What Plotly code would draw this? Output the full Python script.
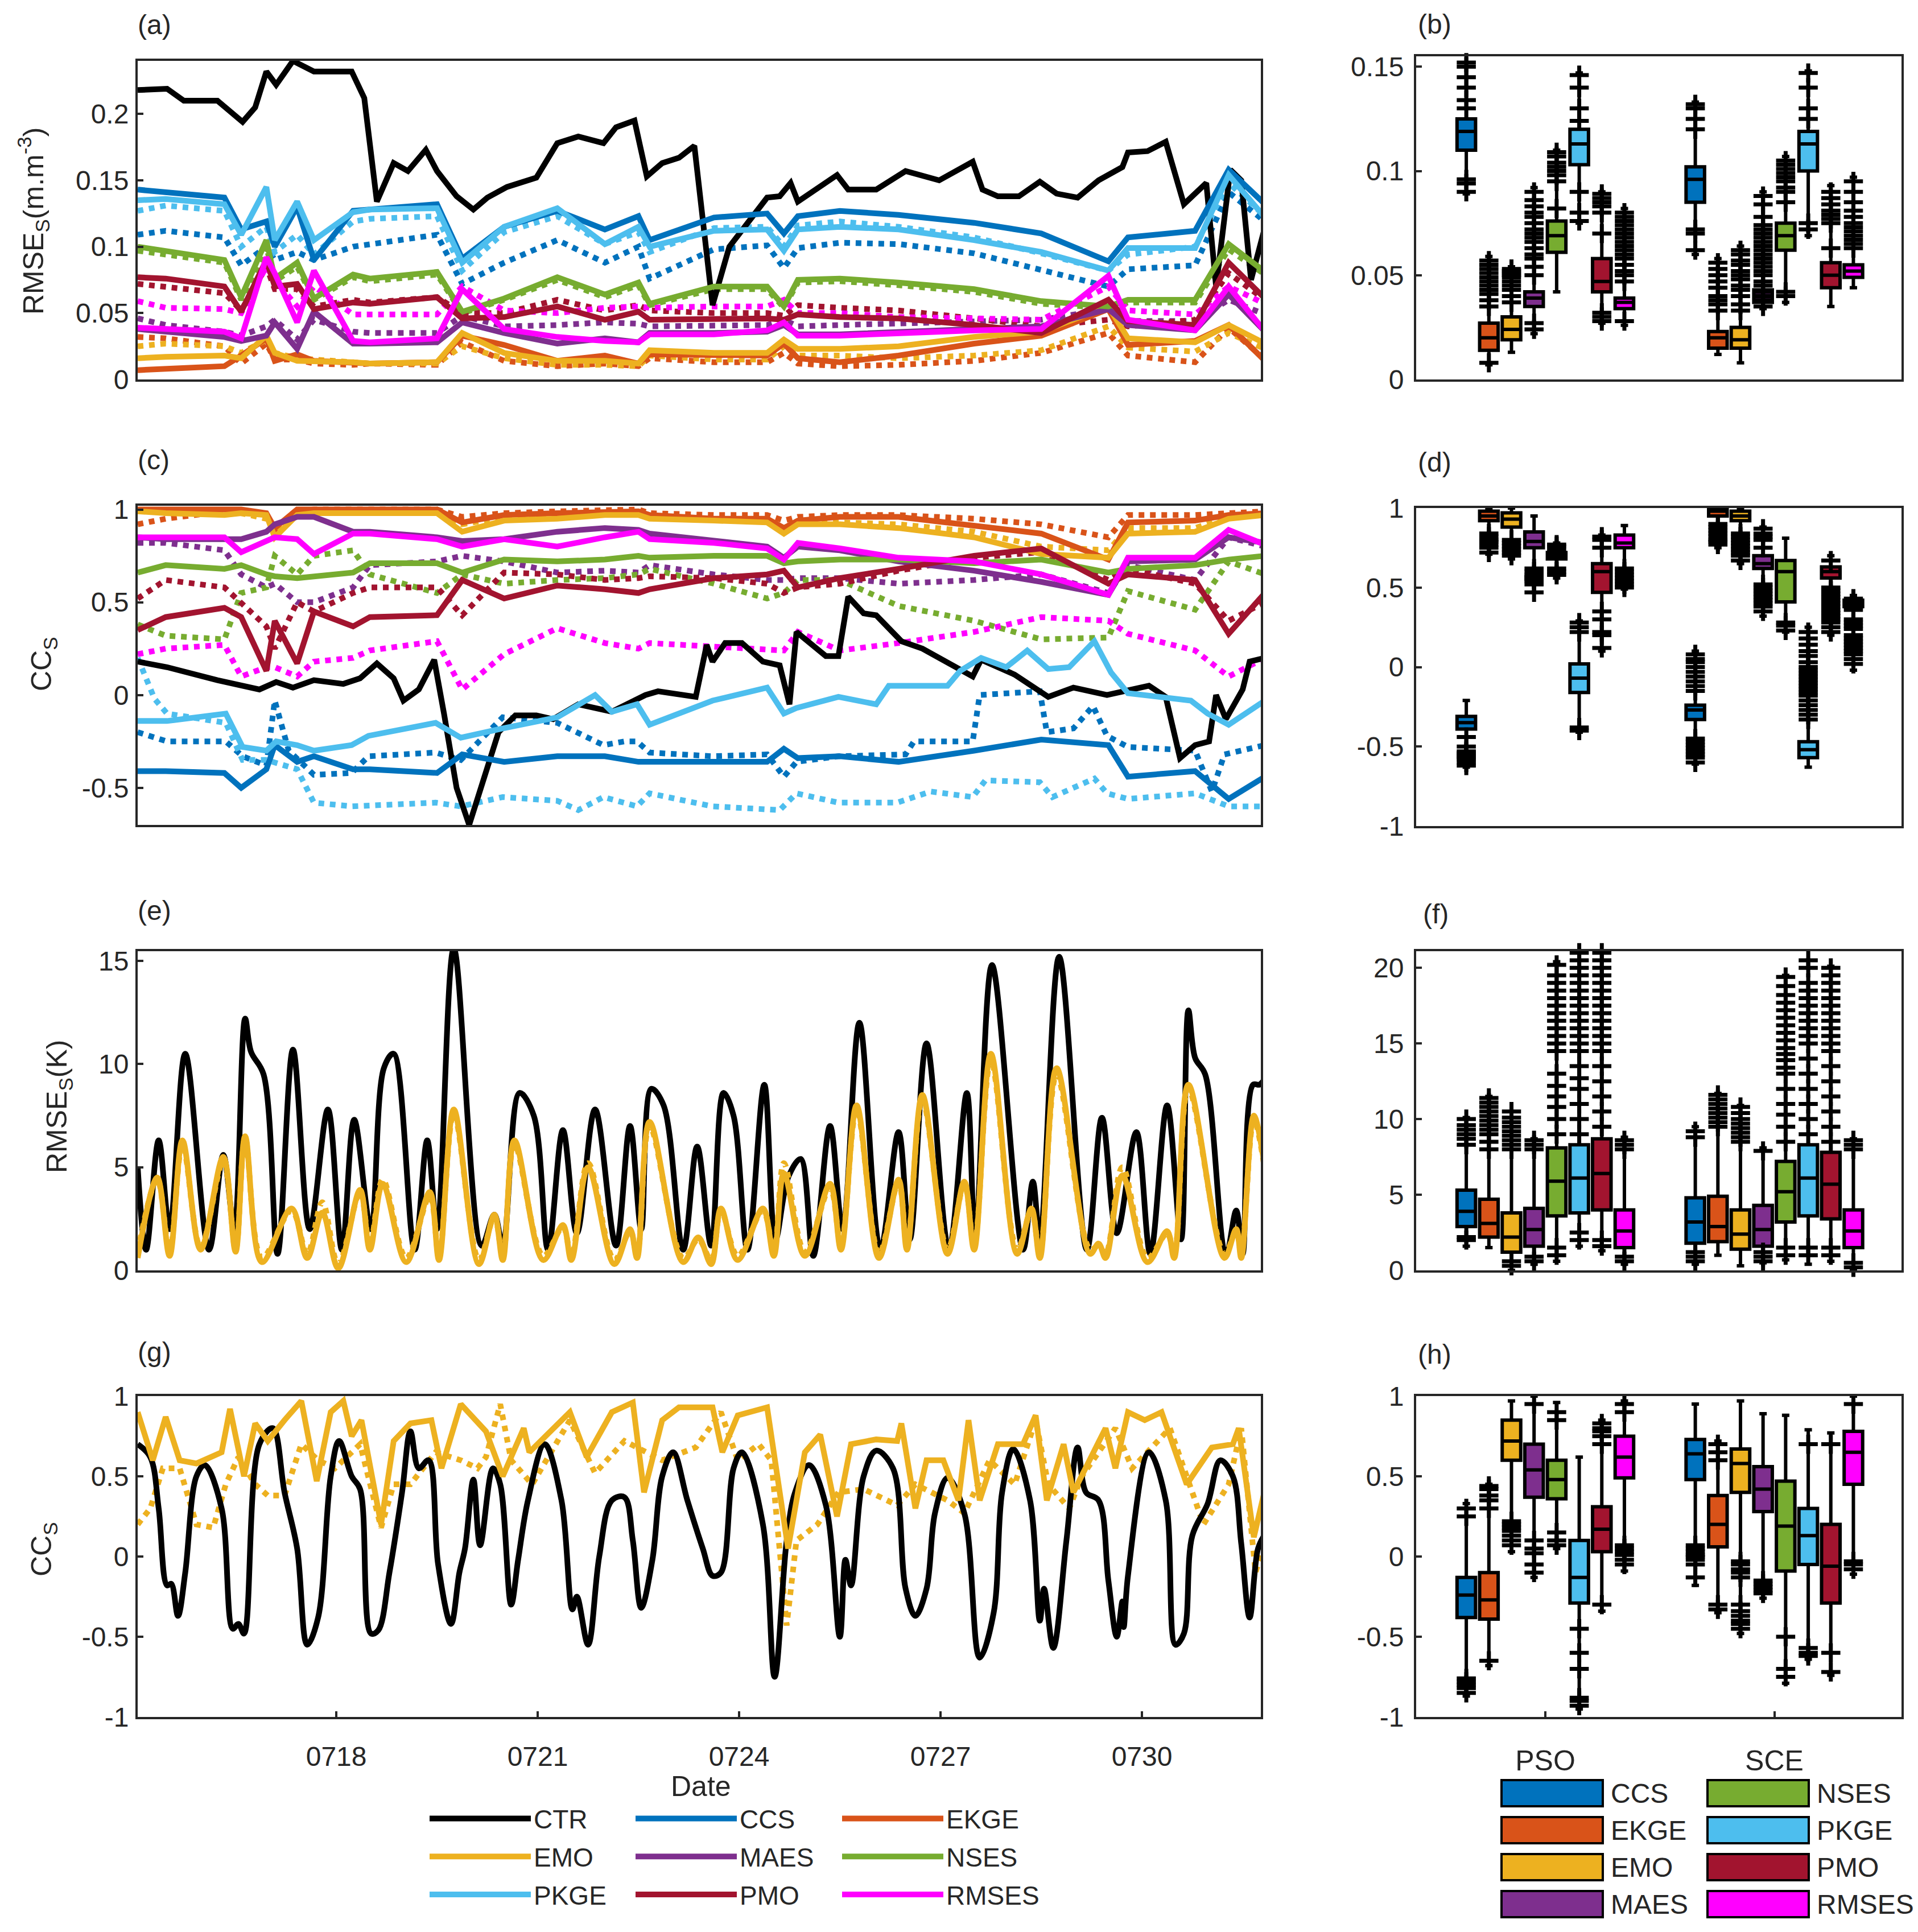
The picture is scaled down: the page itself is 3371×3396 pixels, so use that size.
import plotly.graph_objects as go

# x is hours since 0715 00:00
DATE_TICKS = [72, 144, 216, 288, 360]
DATE_LABELS = ["0718", "0721", "0724", "0727", "0730"]

COLORS = {"CTR": "#000000", "CCS": "#0072BD", "EKGE": "#D95319", "EMO": "#EDB120", "MAES": "#7E2F8E",
          "NSES": "#77AC30", "PKGE": "#4DBEEE", "PMO": "#A2142F", "RMSES": "#FF00FF"}
BOX_ORDER = ["CCS", "EKGE", "EMO", "MAES", "NSES", "PKGE", "PMO", "RMSES"]
BOX_POS = [1, 2, 3, 4, 5, 6, 7, 8, 11.14, 12.14, 13.14, 14.14, 15.14, 16.14, 17.14, 18.14]

# shared sampling hours for the soil moisture series
SM_H = [1, 11, 32, 38, 47, 50, 58, 64, 78, 84, 108, 117, 132, 151, 168, 180, 184, 207, 226, 232, 237, 252, 273, 300,
        324, 348, 355, 379, 391, 404]

# panel (a) RMSE soil moisture
A_CTR_H = [1, 11.5, 17.5, 29.5, 38.5, 43, 47, 50.5, 56.5, 64, 77.5, 82, 86.5, 92.5, 97.6, 104, 108, 115, 121, 126, 133,
           143.5, 151, 158.5, 167.5, 172, 178.6, 183, 188.5, 194.5, 200, 206.5, 212.5, 221.5, 226, 230.5, 234.4, 237,
           251, 255, 265, 275.5, 287.5, 299.5, 303, 308.5, 316, 323.5, 329.5, 337, 344.5, 353, 355, 362, 368.5, 375,
           383, 386.5, 391.6, 395.5, 399, 404]
A_CTR = [.218, .219, .21, .21, .194, .205, .232, .222, .24, .232, .232, .212, .134, .163, .157, .173, .157, .138, .128,
         .137, .145, .152, .178, .183, .178, .19, .195, .153, .163, .167, .176, .056, .1, .125, .137, .138, .148, .134,
         .154, .143, .143, .157, .15, .164, .143, .138, .138, .149, .14, .137, .15, .16, .171, .172, .179, .132, .148,
         .07, .158, .15, .075, .115]
A_CCS = [.143, .141, .137, .113, .119, .1, .13, .09, .127, .128, .132, .091, .115, .127, .113, .123, .105, .122, .125,
         .11, .123, .127, .124, .118, .11, .089, .107, .112, .158, .132]
A_EKGE = [.007, .008, .01, .018, .031, .014, .019, .014, .013, .012, .013, .033, .026, .014, .018, .012, .019, .018,
          .018, .027, .016, .013, .018, .027, .033, .053, .026, .029, .041, .014]
A_EMO = [.016, .017, .018, .016, .033, .02, .014, .014, .013, .012, .013, .035, .02, .014, .014, .012, .022, .02, .02,
         .03, .023, .023, .025, .032, .036, .055, .031, .028, .041, .027]
A_MAES = [.038, .036, .032, .029, .033, .043, .023, .051, .027, .027, .028, .043, .035, .027, .031, .028, .035, .035,
          .036, .041, .034, .034, .036, .038, .04, .053, .041, .037, .064, .036]
A_NSES = [.1, .097, .09, .062, .105, .076, .088, .061, .079, .076, .081, .051, .061, .077, .064, .073, .057, .07, .07,
          .055, .075, .076, .073, .068, .059, .055, .06, .06, .102, .081]
A_PKGE = [.135, .136, .132, .109, .145, .105, .134, .105, .126, .128, .129, .088, .115, .129, .102, .115, .1, .112,
          .113, .097, .113, .115, .113, .105, .096, .082, .099, .099, .154, .122]
A_PMO = [.077, .076, .07, .051, .09, .07, .072, .053, .058, .057, .062, .046, .047, .055, .045, .051, .045, .046, .046,
         .045, .049, .047, .046, .041, .035, .06, .044, .041, .088, .061]
A_RMSES = [.039, .038, .036, .031, .092, .08, .043, .082, .029, .028, .031, .068, .038, .032, .029, .028, .034, .034,
           .037, .043, .033, .033, .035, .037, .038, .078, .045, .037, .07, .036]
A_CCS_DOT = [.109, .112, .107, .086, .1, .09, .096, .09, .1, .102, .109, .072, .088, .105, .088, .1, .076, .098, .101,
             .084, .099, .103, .102, .095, .083, .07, .083, .086, .141, .119]
A_EKGE_DOT = [.032, .031, .025, .012, .027, .015, .015, .012, .011, .012, .011, .028, .014, .01, .012, .01, .016, .013,
              .013, .02, .012, .01, .011, .014, .02, .035, .018, .013, .039, .015]
A_EMO_DOT = [.025, .027, .025, .02, .03, .02, .016, .015, .012, .012, .012, .025, .016, .011, .011, .01, .018, .015,
             .015, .025, .018, .018, .016, .018, .022, .04, .024, .021, .035, .023]
A_MAES_DOT = [.046, .041, .036, .033, .04, .045, .03, .045, .036, .035, .035, .048, .04, .041, .043, .042, .04, .04,
              .041, .045, .04, .041, .042, .043, .045, .053, .044, .044, .06, .049]
A_NSES_DOT = [.097, .094, .088, .06, .1, .074, .085, .06, .077, .074, .079, .05, .06, .075, .062, .071, .056, .068,
              .068, .054, .073, .074, .071, .066, .057, .054, .058, .058, .098, .079]
A_PKGE_DOT = [.127, .131, .127, .1, .115, .096, .109, .094, .119, .121, .123, .082, .111, .123, .102, .111, .096, .114,
              .115, .1, .116, .119, .115, .107, .095, .082, .094, .1, .148, .123]
A_PMO_DOT = [.072, .07, .065, .052, .085, .068, .068, .055, .06, .058, .062, .05, .05, .06, .052, .056, .052, .05, .05,
             .048, .056, .054, .052, .046, .04, .045, .04, .045, .08, .06]
A_RMSES_DOT = [.059, .054, .053, .05, .085, .075, .055, .07, .049, .049, .049, .07, .052, .05, .054, .055, .054, .055,
               .055, .06, .05, .05, .047, .046, .045, .07, .052, .049, .07, .057]

# panel (c) CC soil moisture
C_CTR_H = [1, 11.5, 29.5, 44.5, 50.5, 56.5, 64, 74.5, 80.5, 86.5, 92.5, 96, 101.5, 107, 110.5, 115, 119.5, 125, 130, 136,
           143.5, 149.5, 158.5, 170.5, 182.5, 187, 200.5, 204.4, 206.5, 211, 217, 224.5, 230.5, 234, 236.5, 247, 251.5,
           255, 260.5, 265, 274, 281.5, 299.5, 302.5, 314.5, 326.5, 335.5, 347.5, 362.5, 368.5, 373.6, 379, 384, 386.5,
           390, 396, 398.5, 404]
C_CTR = [.18, .15, .08, .03, .07, .04, .08, .06, .09, .17, .09, -.03, .03, .19, -.1, -.5, -.7, -.45, -.2, -.11, -.11,
         -.13, -.05, -.09, 0, .02, -.01, .27, .18, .28, .28, .18, .16, -.05, .34, .21, .21, .53, .44, .43, .29, .25, .1,
         .19, .11, -.01, .04, 0, .05, -.01, -.34, -.27, -.25, 0, -.13, .03, .18, .2]
C_CCS = [-.41, -.41, -.42, -.5, -.4, -.27, -.36, -.33, -.4, -.4, -.42, -.32, -.36, -.33, -.33, -.36, -.36, -.36, -.36,
         -.29, -.34, -.33, -.36, -.3, -.24, -.27, -.44, -.41, -.56, -.44]
C_EKGE = [1, 1, 1, 1, .98, .9, 1, 1, 1, 1, 1, .93, .97, .98, .99, .99, .97, .95, .95, .9, .94, .96, .96, .91, .87, .73,
          .93, .94, .97, .98]
C_EMO = [.99, .98, .97, .98, .97, .85, .97, .98, .98, .98, .98, .88, .94, .95, .97, .97, .95, .94, .93, .87, .92, .92,
         .9, .85, .76, .74, .87, .88, .95, .97]
C_MAES = [.85, .84, .84, .84, .88, .92, .96, .96, .88, .88, .85, .83, .84, .88, .9, .89, .87, .83, .8, .74, .8, .78,
          .72, .67, .61, .54, .72, .73, .85, .82]
C_NSES = [.66, .7, .68, .7, .65, .64, .63, .64, .66, .71, .71, .66, .73, .72, .73, .75, .74, .75, .75, .71, .72, .73,
          .73, .71, .73, .66, .68, .7, .73, .75]
C_PKGE_H = [1, 11.5, 32.5, 38.5, 47, 50.5, 58, 64, 77.5, 83.5, 107.5, 116.5, 131.5, 151, 164.5, 170.5, 179.5, 184, 206.5,
            226, 232, 236.5, 251.5, 265, 269.5, 290.5, 295, 302.5, 311.5, 319, 326.5, 334, 343, 349, 355, 377.5, 383.5,
            391, 404]
C_PKGE = [-.14, -.14, -.1, -.28, -.3, -.25, -.27, -.3, -.27, -.22, -.15, -.23, -.18, -.12, 0, -.09, -.05, -.16, -.03,
          .04, -.1, -.07, -.01, -.05, .05, .05, .13, .2, .15, .24, .14, .15, .29, .12, .01, -.03, -.1, -.16, -.03]
C_PMO = [.35, .42, .47, .42, .13, .4, .17, .45, .37, .42, .43, .62, .52, .59, .57, .55, .57, .63, .65, .67, .58, .63,
         .68, .75, .79, .6, .65, .62, .33, .55]
C_RMSES = [.85, .85, .85, .77, .83, .85, .84, .76, .87, .87, .84, .8, .84, .8, .85, .88, .84, .82, .79, .73, .82, .79,
           .74, .72, .65, .54, .74, .74, .89, .81]
C_CCS_DOT_H = [1, 11.5, 32.5, 38.5, 47, 50, 55, 64, 77.5, 83.5, 107.5, 116.5, 131.5, 151, 167.5, 175, 179.5, 184, 206.5,
               226, 232, 236.5, 251.5, 275.5, 278.5, 299.5, 302, 323.5, 326, 335.5, 342.5, 347.5, 355, 379, 385, 389.5,
               404]
C_CCS_DOT = [-.2, -.25, -.25, -.33, -.38, -.03, -.3, -.43, -.42, -.33, -.31, -.35, -.12, -.15, -.27, -.25, -.25, -.31,
             -.33, -.32, -.44, -.36, -.33, -.32, -.25, -.25, 0, .02, -.2, -.18, -.06, -.22, -.28, -.3, -.52, -.32, -.27]
C_EKGE_DOT = [.92, .95, .99, .99, .97, .88, .99, 1, 1, 1, 1, .96, .98, .99, 1, 1, .98, .97, .97, .94, .96, .97, .97, .95,
              .92, .85, .97, .97, .98, .99]
C_EMO_DOT = [.99, .99, .98, .98, .95, .88, .98, .98, .98, .98, .99, .92, .96, .97, .98, .98, .96, .95, .94, .9, .93, .93,
             .92, .88, .8, .78, .9, .9, .96, .98]
C_MAES_DOT = [.82, .82, .78, .65, .58, .6, .5, .5, .58, .7, .72, .75, .72, .66, .67, .66, .7, .65, .62, .62, .63, .63,
              .6, .62, .65, .55, .7, .62, .85, .8]
C_NSES_DOT = [.38, .32, .3, .55, .58, .75, .65, .75, .78, .65, .55, .65, .6, .62, .63, .65, .68, .6, .52, .55, .62, .62,
              .48, .4, .3, .31, .56, .46, .72, .65]
C_PKGE_DOT_H = [1, 7, 11.5, 32.5, 38.5, 47, 58, 64, 77.5, 107.5, 116.5, 131.5, 151, 158.5, 167.5, 179.5, 184, 206.5,
                230.5, 236.5, 251.5, 272.5, 284.5, 299.5, 304, 323.5, 328, 343, 347.5, 355, 379, 391, 404]
C_PKGE_DOT = [.2, -.02, -.1, -.15, -.35, -.35, -.4, -.58, -.6, -.58, -.6, -.55, -.57, -.62, -.55, -.6, -.53, -.6, -.62,
              -.53, -.58, -.58, -.52, -.55, -.46, -.47, -.55, -.45, -.53, -.56, -.53, -.6, -.6]
C_PMO_DOT = [.52, .62, .58, .5, .37, .25, .5, .45, .55, .58, .58, .43, .66, .65, .62, .63, .64, .63, .6, .55, .58, .6,
             .67, .74, .77, .62, .68, .6, .4, .5]
C_RMSES_DOT = [.22, .25, .27, .1, .15, .15, .1, .18, .2, .24, .29, .03, .22, .36, .28, .25, .28, .26, .25, .24, .34, .24,
               .28, .34, .42, .4, .33, .24, .1, .2]

# panel (e) RMSE skin temperature
E_CTR_H = [1, 4, 8.5, 12.4, 18, 26.5, 31.6, 35.5, 39.4, 41.5, 46, 51, 56.5, 62.5, 69, 74, 78.4, 84.4, 89, 92.5, 100,
           104.5, 108, 114, 124, 128.5, 131.5, 137.5, 142.6, 147.7, 153, 158, 164.5, 172, 177, 181, 184.6, 189, 196, 201,
           206, 210.4, 214, 219, 225, 229, 233.5, 238, 242.5, 248.5, 253, 259, 266.5, 273, 277, 283, 291, 297.4, 300.4,
           306.4, 317.5, 321, 323.5, 330.4, 340.3, 345.7, 351, 358, 363, 369, 374, 376.6, 379, 382.6, 390, 393.7, 396,
           399.7, 402, 404]
E_CTR = [5, 1, 6.3, 2, 10.5, 1, 5.6, 2, 12.2, 10.6, 9.5, .8, 10.7, 2, 7.8, 1, 7.3, 2, 9.8, 10.5, 1, 6.3, 2, 15.6, 1.2,
         2.7, 1.2, 8.6, 7.5, 1, 6.8, 1.8, 7.8, 1.2, 7, 2, 8.8, 8, 1, 6, 1.2, 8.6, 7.5, 1, 9, 1.5, 4.5, 5.4, .7, 7, 2, 12,
         1, 6.7, 1.5, 11, 1, 8.6, 1.5, 14.8, 1, 4.3, 1.5, 15.2, 1, 7.4, 1.8, 6.7, .8, 8, 1.5, 12.6, 10.3, 9.5, .7, 2.9,
         .8, 9, 9, 9.3]
E_EMO_H = [1, 8, 12.4, 17, 23.5, 31.6, 36, 39.4, 45.4, 56, 61.6, 67, 72.7, 80.5, 84, 88.6, 97, 105.4, 108.7, 114, 123,
           128.5, 131.5, 135.7, 146, 153, 156, 162, 171.4, 177, 179.5, 184, 196, 201.4, 206, 209.5, 215.5, 224.5, 228.4,
           232, 239.5, 248.5, 252.4, 258, 266, 273, 276, 281.5, 290.5, 296.5, 300, 306, 315.4, 320.5, 323.5, 329.5, 341.5,
           344.5, 347, 353, 362, 369, 371.5, 376.6, 389.5, 393.7, 395.5, 400, 404]
E_EMO = [.6, 4.5, .7, 6.3, 1, 5.5, .9, 6.5, .4, 3, .6, 2.8, .1, 3.9, 1, 4.2, .4, 3.8, .5, 7.8, .3, 2.7, .5, 6.3, .5, 2.2,
         .5, 5, .3, 2, .6, 7.2, .4, 1.6, .3, 3, .5, 3, .7, 4.7, .7, 4.2, 1, 8, .6, 4.4, 1, 8.5, .8, 4.3, 1, 10.5, .8, 3,
         .6, 9.8, .8, 1.3, .6, 4.6, .4, 1.9, .6, 9, .6, 2, .6, 7.5, 4.9]
E_EMO_DOT = [.9, 4.4, .9, 6.1, 1.1, 5.3, 1, 6.4, .6, 2.9, .8, 3.3, .3, 3.8, 1.2, 4.4, .6, 3.6, .7, 7.6, .5, 2.6, .7, 6.1,
             .7, 2.1, .7, 5.2, .5, 1.9, .8, 7, .6, 1.5, .5, 2.9, .7, 2.9, .9, 5.2, .9, 4, 1.2, 7.8, .8, 4.3, 1.2, 8.3, 1,
             4.2, 1.2, 10.2, 1, 2.9, .8, 9.5, 1, 1.2, .8, 5, .6, 1.8, .8, 8.8, .8, 1.9, .8, 7.3, 4.8]

# panel (g) CC skin temperature
G_CTR_H = [1, 5.5, 8.5, 11.5, 13, 15.4, 18, 22, 25, 31, 35, 37, 39, 44.5, 49.3, 53.5, 58, 61.6, 65.5, 70, 73, 77.5, 80.5,
           84.4, 87, 91, 95.5, 98.5, 101.5, 105, 108.4, 113, 116, 118, 121, 123.4, 128, 130.6, 134.5, 137, 140.5, 146.5,
           152.5, 156.4, 158, 162, 166, 170.5, 175, 178, 181, 185, 188.5, 192.4, 197.5, 203, 206.5, 209.5, 214, 217,
           224.5, 228.7, 233, 236, 241, 247, 252, 254, 256, 260.5, 265, 271, 275.5, 279, 283, 286, 290.5, 296.5, 302,
           307, 310, 314, 320, 323.5, 325, 328.3, 333, 337, 340, 344.5, 348, 351, 353, 353.5, 355, 362.5, 368.5, 372, 375,
           378, 383.5, 388, 392.5, 395.5, 398.5, 401.5, 404]
G_CTR = [.7, .62, .3, -.18, -.17, -.37, -.1, .5, .57, .3, -.45, -.42, -.48, .7, .8, .4, .05, -.55, -.38, .5, .72, .5,
         .42, -.48, -.46, -.1, .4, .78, .55, .6, -.05, -.42, -.1, .05, .48, .07, .55, .45, -.3, -.02, .35, .7, .35, -.33,
         -.25, -.55, 0, .35, .37, .1, -.32, -.02, .5, .65, .35, .05, -.12, -.1, .55, .65, .2, -.75, .1, .4, .57, .32, -.5,
         -.02, -.18, .5, .66, .55, -.2, -.37, -.2, .27, .49, .27, -.63, -.35, .4, .67, .35, -.4, -.2, -.57, .1, .68, .4,
         .35, -.15, -.5, -.28, -.44, -.12, .65, .35, -.55, -.48, .13, .33, .6, .5, .08, -.38, .05, .14]
G_EMO_H = [1, 6.4, 11, 16, 22, 31, 34, 39, 43, 47.5, 53.5, 59.5, 65, 70, 74.5, 77.5, 81, 88, 92.5, 98.5, 106, 109.6, 116.5,
           125.5, 131.5, 139, 141, 155.5, 161.5, 170.5, 178, 182, 188.5, 194.5, 206.5, 210, 215.5, 226, 233.5, 239.5, 245,
           251, 256, 265, 272.5, 274, 279, 283, 289, 294.4, 298, 302, 308.5, 317.5, 322, 326, 332, 335.5, 347, 350.5, 355,
           361, 367, 376, 385, 392.5, 394.6, 400, 404]
G_EMO = [.9, .6, .87, .6, .58, .65, .92, .5, .83, .72, .85, .97, .47, .9, .97, .75, .85, .2, .72, .83, .85, .55, .95, .78,
         .5, .8, .65, .9, .62, .9, .96, .4, .85, .93, .93, .65, .88, .93, .05, .65, .76, .25, .7, .73, .72, .83, .3, .6,
         .6, .35, .85, .35, .7, .7, .88, .35, .7, .4, .8, .55, .9, .85, .9, .45, .68, .7, .8, .12, .42]
G_EMO_DOT_H = [1, 5.5, 10, 16, 22, 28, 32.5, 37, 43, 47.5, 53.5, 59.5, 65.5, 71.5, 80.5, 88, 92.5, 98.5, 107.5, 116.5,
               122.5, 125.5, 130.6, 134.5, 142, 155.5, 164.5, 175, 188.5, 200.5, 209.5, 215.5, 223, 227.5, 233, 236.5, 244,
               251.5, 260.5, 272.5, 279, 290.5, 296.5, 305.5, 314.5, 322, 326.5, 334, 338.5, 350.5, 356.5, 370, 376, 382,
               391, 395.5, 400.6, 404]
G_EMO_DOT = [.2, .3, .55, .55, .2, .18, .45, .62, .45, .38, .38, .7, .6, .55, .7, .18, .45, .45, .65, .6, .55, .62, .95,
             .6, .45, .85, .52, .72, .6, .68, .9, .6, .7, .6, -.43, .1, .2, .4, .42, .32, .45, .35, .27, .6, .45, .85, .45,
             .3, .5, .8, .55, .8, .5, .2, .45, .8, -.1, .1]

# box statistics, one list per statistic, same order as BOX_POS
B_Q1 = [.11, .014, .019, .035, .061, .103, .042, .034, .085, .015, .015, .037, .062, .1, .044, .049]
B_MED = [.119, .02, .024, .039, .069, .113, .047, .037, .096, .02, .019, .04, .069, .113, .05, .052]
B_Q3 = [.125, .027, .03, .042, .076, .12, .058, .039, .102, .023, .025, .043, .075, .119, .056, .055]
B_LOW = [.089, .007, .013, .022, .042, .075, .027, .026, .06, .012, .008, .034, .037, .069, .035, .044]
B_HIGH = [.158, .059, .054, .092, .11, .147, .09, .082, .133, .058, .064, .09, .107, .148, .093, .097]
B_OUT = [
    [.09, .094, .096, .13, .134, .14, .145, .15, .152, .156],
    [.008, .035, .038, .041, .043, .045, .047, .049, .051, .053, .055, .057],
    [.037, .04, .043, .045, .047, .049, .05, .051, .052, .053],
    [.024, .027, .05, .054, .058, .06, .063, .066, .068, .07, .072, .075, .078, .08, .083, .086, .09],
    [.082, .095, .098, .1, .102, .104, .107, .109],
    [.076, .08, .09, .124, .13, .14, .146],
    [.028, .03, .032, .07, .08, .083, .085, .087, .089],
    [.028, .047, .05, .052, .055, .058, .06, .062, .064, .066, .068, .07, .072, .074, .076, .078, .08],
    [.062, .07, .072, .12, .125, .13, .132],
    [.033, .036, .038, .04, .044, .047, .05, .053, .056],
    [.033, .036, .04, .043, .045, .048, .05, .052, .055, .057, .06, .062],
    [.035, .038, .04, .042, .045, .047, .05, .052, .054, .056, .058, .06, .062, .064, .066, .068, .07, .072, .074, .078,
     .084, .088],
    [.04, .042, .085, .09, .092, .095, .097, .099, .101, .103, .105],
    [.072, .075, .125, .13, .14, .147],
    [.063, .075, .077, .079, .081, .084, .087, .09],
    [.063, .065, .067, .069, .071, .073, .075, .078, .081, .085, .09, .095],
]

D_Q1 = [-.39, .92, .88, .75, .68, -.16, .47, .75, -.33, .95, .92, .62, .41, -.57, .56, .38]
D_MED = [-.35, .95, .93, .79, .7, -.07, .6, .78, -.27, .98, .95, .65, .6, -.52, .6, .4]
D_Q3 = [-.31, .98, .97, .85, .72, .02, .65, .83, -.24, 1, .98, .7, .67, -.47, .63, .42]
D_LOW = [-.63, .71, .68, .47, .56, -.41, .1, .49, -.61, .75, .65, .32, .22, -.63, .2, -.02]
D_HIGH = [-.21, 1, 1, .95, .78, .29, .83, .89, .1, 1, 1, .88, .81, .25, .7, .45]
D_OUT = [
    [-.44, -.5, -.53, -.54, -.55, -.56, -.57, -.58, -.6, -.62],
    [.72, .75, .77, .79, .8, .82, .84],
    [.7, .72, .74, .76, .78, .8],
    [.47, .52, .54, .55, .56, .57, .58, .6, .62],
    [.58, .6, .62, .74, .76, .77],
    [-.4, -.38, .22, .25, .28],
    [.12, .2, .22, .3, .35, .75, .8, .82],
    [.5, .52, .54, .56, .58, .6, .62],
    [-.6, -.57, -.55, -.53, -.51, -.49, -.47, -.45, -.15, -.12, -.09, -.06, -.03, 0, .03, .05, .08],
    [.77, .79, .8, .82, .84, .86, .88, .9],
    [.67, .7, .72, .74, .76, .78, .8, .82, .84],
    [.35, .38, .4, .42, .44, .46, .48, .5, .52, .75, .8, .82, .84, .87],
    [.23, .26, .28],
    [-.33, -.3, -.27, -.24, -.21, -.18, -.16, -.14, -.12, -.1, -.08, -.06, -.04, -.02, 0, .03, .07, .1, .14, .18, .22],
    [.22, .25, .28, .3, .32, .34, .36, .38, .4, .42, .44, .46, .48, .5, .67],
    [.02, .05, .08, .1, .12, .14, .16, .18, .2, .24, .26, .28, .3, .36, .38, .41, .43],
]

F_Q1 = [2.9, 2.2, 1.2, 1.6, 3.6, 3.8, 4, 1.5, 1.8, 1.9, 1.4, 1.6, 3.2, 3.6, 3.4, 1.5]
F_MED = [3.9, 3.1, 2.2, 2.7, 5.9, 6.1, 6.4, 2.6, 3.2, 2.9, 2.4, 2.7, 5.2, 6.1, 5.7, 2.6]
F_Q3 = [5.3, 4.7, 3.8, 4.1, 8.1, 8.3, 8.7, 4, 4.8, 4.9, 4, 4.3, 7.2, 8.3, 7.8, 4]
F_LOW = [1.6, 1.5, 0, .4, .6, 1.6, 1.3, .4, .4, 1, .3, .5, .7, .4, .6, 0]
F_HIGH = [10.1, 11.5, 10.5, 8.7, 20.4, 21.3, 21.1, 8.8, 9.5, 11.7, 10.9, 8.1, 19.5, 21.4, 20.1, 8.7]
F_OUT = [
    [2, 2.2, 8.3, 8.7, 9, 9.3, 9.6, 10],
    [8, 8.5, 9, 9.3, 9.6, 9.9, 10.2, 10.5, 10.8, 11.1, 11.4],
    [.3, .6, 8, 8.3, 8.6, 8.9, 9.2, 9.5, 9.8, 10.1, 10.5],
    [.6, .9, 8, 8.3, 8.6],
    [1, 1.5, 9, 10, 10.8, 11.5, 12.2, 13, 14.5, 15, 15.5, 16, 16.5, 17, 17.5, 18, 18.5, 19, 19.5, 20.2],
    [2, 2.5, 9, 10, 11, 12, 12.7, 13.5, 14.5, 15, 15.5, 16, 16.5, 17, 17.5, 18, 18.5, 19, 19.5, 20, 20.5, 21],
    [1.6, 2, 9.5, 10.5, 11.5, 12.5, 13.5, 14.5, 15, 15.5, 16, 16.5, 17, 17.5, 18, 18.5, 19, 19.5, 20, 20.5, 21],
    [.6, .9, 8, 8.3, 8.6],
    [.6, .9, 1.2, 8.8, 9.2],
    [9.5, 9.8, 10.1, 10.4, 10.7, 11, 11.3, 11.6],
    [8.5, 8.8, 9.1, 9.4, 9.7, 10, 10.4, 10.8],
    [.6, .9, 1.2, 7.9],
    [1, 1.5, 8.5, 9.5, 10.3, 11, 12, 13, 13.4, 13.9, 14.3, 14.7, 15.2, 15.7, 16.2, 16.7, 17.2, 17.7, 18.2, 18.8, 19.4],
    [1, 1.5, 9, 10, 11, 12, 13, 14, 15, 15.5, 16, 16.5, 17, 17.5, 18, 18.5, 19, 20, 20.5, 21.2],
    [1, 1.5, 8.5, 9.5, 10.5, 11.5, 12.5, 13.5, 14.5, 15, 15.5, 16, 16.5, 17, 17.5, 18, 18.5, 19, 19.5, 20],
    [.2, .5, 8, 8.3, 8.6],
]

H_Q1 = [-.38, -.39, .6, .37, .36, -.29, .03, .49, .48, .06, .4, .28, -.09, -.05, -.29, .45]
H_MED = [-.24, -.27, .72, .54, .48, -.13, .17, .62, .64, .2, .58, .42, .19, .13, -.06, .65]
H_Q3 = [-.13, -.1, .85, .7, .6, .1, .31, .75, .73, .38, .67, .56, .47, .3, .2, .78]
H_LOW = [-.87, -.68, .03, -.13, .05, -.95, -.34, -.09, -.18, -.35, -.48, -.26, -.79, -.64, -.74, -.11]
H_HIGH = [.33, .45, .97, 1, .96, .62, .85, .97, .95, .72, .97, .89, .88, .79, .77, 1]
H_OUT = [
    [-.85, -.82, -.8, -.78, -.76, .25, .3],
    [-.65, .3, .35, .38, .42, .44],
    [.07, .1, .13, .16, .18, .2, .22],
    [-.1, -.05, .02, .05, .1, .95],
    [.07, .1, .15, .85, .9],
    [-.93, -.9, -.88, -.7, -.6, -.45],
    [-.3, .7, .75, .78, .8, .83],
    [-.05, -.02, .01, .03, .05, .07, .9, .95],
    [-.13, -.05, -.02, 0, .01, .03, .05, .07],
    [-.33, -.3, .6, .65, .7],
    [-.45, -.42, -.4, -.37, -.34, -.3, -.13, -.1, -.08, -.05, -.03],
    [-.23, -.21, -.19, -.17, -.15],
    [-.75, -.7, -.5],
    [-.62, -.6, -.57, .7],
    [-.72, -.6, .7],
    [-.08, -.05, -.03, .95],
]

W, H = 3371, 3396
TEXT = "#262626"
FONT = "Liberation Sans"

# which legend column a line series belongs to
LEGEND_COL = {"CTR": "legend", "EMO": "legend", "PKGE": "legend", "CCS": "legend2", "MAES": "legend2", "PMO": "legend2",
              "EKGE": "legend3", "NSES": "legend3", "RMSES": "legend3"}


def xdom(a, b):
    return [a / W, b / W]


def ydom(top, bottom):
    return [1 - bottom / H, 1 - top / H]


def axis(**kw):
    d = dict(showgrid=False, zeroline=False, showline=True, linecolor=TEXT, linewidth=4, mirror=True,
             ticks="inside", ticklen=10, tickwidth=4, tickcolor=TEXT, tickfont=dict(size=48, color=TEXT, family=FONT))
    d.update(kw)
    return d


def time_axis(anchor, labels=False):
    if labels:
        return axis(domain=xdom(242, 2216), range=[1, 402.5], anchor=anchor, tickmode="array", tickvals=DATE_TICKS,
                    ticktext=DATE_LABELS, ticklabelstandoff=24)
    return axis(domain=xdom(242, 2216), range=[1, 402.5], anchor=anchor, ticks="", showticklabels=False)


def box_axis(anchor, labels=False):
    if labels:
        return axis(domain=xdom(2489, 3342), range=[-1.22, 20.27], anchor=anchor, tickmode="array",
                    tickvals=[4.5, 14.64], ticktext=["PSO", "SCE"], ticklabelstandoff=30,
                    tickfont=dict(size=50, color=TEXT, family=FONT))
    return axis(domain=xdom(2489, 3342), range=[-1.22, 20.27], anchor=anchor, ticks="", showticklabels=False)


def value_axis(top, bottom, anchor, rng, vals, texts, standoff=2):
    return axis(domain=ydom(top, bottom), range=rng, anchor=anchor, tickmode="array", tickvals=vals, ticktext=texts,
                ticklabelstandoff=standoff)


def legend_col(px):
    return dict(x=px / W, y=1 - 3160 / H, xanchor="left", yanchor="top", orientation="v", itemwidth=178,
                traceorder="grouped", tracegroupgap=4, bgcolor="rgba(0,0,0,0)",
                font=dict(size=46, color=TEXT, family=FONT), itemclick=False, itemdoubleclick=False)


fig = go.Figure()


def add_line(xa, ya, x, y, name, dot=False, legend=False, shape="linear"):
    line = dict(color=COLORS[name], width=10, shape=shape)
    if dot:
        line["dash"] = "dot"
    fig.add_trace(go.Scatter(x=x, y=y, mode="lines", name=name, line=line, xaxis=xa, yaxis=ya,
                             showlegend=legend, legend=LEGEND_COL[name], legendgroup=name, hoverinfo="skip"))


def add_boxes(xa, ya, q1, med, q3, low, high, outliers):
    for i, name in enumerate(BOX_ORDER * 2):
        fig.add_trace(go.Box(x=[BOX_POS[i]], q1=[q1[i]], median=[med[i]], q3=[q3[i]], lowerfence=[low[i]],
                             upperfence=[high[i]], width=.82, whiskerwidth=.4, fillcolor=COLORS[name],
                             line=dict(color="#000000", width=6), xaxis=xa, yaxis=ya, showlegend=False,
                             boxpoints=False, hoverinfo="skip"))
        fig.add_trace(go.Scatter(x=[BOX_POS[i]] * len(outliers[i]), y=outliers[i], mode="markers", xaxis=xa, yaxis=ya,
                                 marker=dict(symbol="cross-thin", size=24, line=dict(color="#000000", width=7)),
                                 cliponaxis=False, showlegend=False, hoverinfo="skip"))


# (a)
add_line("x", "y", SM_H, A_EKGE_DOT, "EKGE", dot=True)
add_line("x", "y", SM_H, A_EMO_DOT, "EMO", dot=True)
add_line("x", "y", SM_H, A_CCS_DOT, "CCS", dot=True)
add_line("x", "y", SM_H, A_PKGE_DOT, "PKGE", dot=True)
add_line("x", "y", SM_H, A_NSES_DOT, "NSES", dot=True)
add_line("x", "y", SM_H, A_MAES_DOT, "MAES", dot=True)
add_line("x", "y", SM_H, A_PMO_DOT, "PMO", dot=True)
add_line("x", "y", SM_H, A_RMSES_DOT, "RMSES", dot=True)
add_line("x", "y", A_CTR_H, A_CTR, "CTR", legend=True)
add_line("x", "y", SM_H, A_CCS, "CCS", legend=True)
add_line("x", "y", SM_H, A_EKGE, "EKGE", legend=True)
add_line("x", "y", SM_H, A_EMO, "EMO", legend=True)
add_line("x", "y", SM_H, A_MAES, "MAES", legend=True)
add_line("x", "y", SM_H, A_NSES, "NSES", legend=True)
add_line("x", "y", SM_H, A_PKGE, "PKGE", legend=True)
add_line("x", "y", SM_H, A_PMO, "PMO", legend=True)
add_line("x", "y", SM_H, A_RMSES, "RMSES", legend=True)

# (c)
add_line("x3", "y3", C_CCS_DOT_H, C_CCS_DOT, "CCS", dot=True)
add_line("x3", "y3", C_PKGE_DOT_H, C_PKGE_DOT, "PKGE", dot=True)
add_line("x3", "y3", SM_H, C_EKGE_DOT, "EKGE", dot=True)
add_line("x3", "y3", SM_H, C_EMO_DOT, "EMO", dot=True)
add_line("x3", "y3", SM_H, C_MAES_DOT, "MAES", dot=True)
add_line("x3", "y3", SM_H, C_NSES_DOT, "NSES", dot=True)
add_line("x3", "y3", SM_H, C_PMO_DOT, "PMO", dot=True)
add_line("x3", "y3", SM_H, C_RMSES_DOT, "RMSES", dot=True)
add_line("x3", "y3", C_CTR_H, C_CTR, "CTR")
add_line("x3", "y3", SM_H, C_CCS, "CCS")
add_line("x3", "y3", SM_H, C_EKGE, "EKGE")
add_line("x3", "y3", SM_H, C_EMO, "EMO")
add_line("x3", "y3", SM_H, C_MAES, "MAES")
add_line("x3", "y3", SM_H, C_NSES, "NSES")
add_line("x3", "y3", C_PKGE_H, C_PKGE, "PKGE")
add_line("x3", "y3", SM_H, C_PMO, "PMO")
add_line("x3", "y3", SM_H, C_RMSES, "RMSES")

# (e)
add_line("x5", "y5", E_CTR_H, E_CTR, "CTR", shape="spline")
add_line("x5", "y5", E_EMO_H, E_EMO_DOT, "EMO", dot=True, shape="spline")
add_line("x5", "y5", E_EMO_H, E_EMO, "EMO", shape="spline")

# (g)
add_line("x7", "y7", G_EMO_DOT_H, G_EMO_DOT, "EMO", dot=True)
add_line("x7", "y7", G_CTR_H, G_CTR, "CTR", shape="spline")
add_line("x7", "y7", G_EMO_H, G_EMO, "EMO")

add_boxes("x2", "y2", B_Q1, B_MED, B_Q3, B_LOW, B_HIGH, B_OUT)
add_boxes("x4", "y4", D_Q1, D_MED, D_Q3, D_LOW, D_HIGH, D_OUT)
add_boxes("x6", "y6", F_Q1, F_MED, F_Q3, F_LOW, F_HIGH, F_OUT)
add_boxes("x8", "y8", H_Q1, H_MED, H_Q3, H_LOW, H_HIGH, H_OUT)

annotations = []


def label(px, py, text, size=48, anchor="left", angle=0):
    annotations.append(dict(xref="paper", yref="paper", x=px / W, y=1 - py / H, text=text, showarrow=False,
                            xanchor=anchor, yanchor="middle", textangle=angle,
                            font=dict(size=size, color=TEXT, family=FONT)))


for txt, px, py in [("(a)", 240, 44), ("(c)", 240, 808), ("(e)", 240, 1600), ("(g)", 240, 2376),
                    ("(b)", 2490, 43), ("(d)", 2490, 812), ("(f)", 2499, 1606), ("(h)", 2490, 2380)]:
    label(px, py, txt)

label(58, 389, "RMSE<sub>S</sub>(m.m<sup>-3</sup>)", size=50, anchor="center", angle=-90)
label(76, 1167, "CC<sub>S</sub>", size=50, anchor="center", angle=-90)
label(104, 1945, "RMSE<sub>S</sub>(K)", size=50, anchor="center", angle=-90)
label(76, 2723, "CC<sub>S</sub>", size=50, anchor="center", angle=-90)
label(1232, 3140, "Date", size=50, anchor="center")

# box legend on the right
shapes = []
for i, name in enumerate(BOX_ORDER):
    col, row = i // 4, i % 4
    left = 2639 + col * 362
    top = 3129 + row * 65
    shapes.append(dict(type="rect", xref="paper", yref="paper", x0=left / W, x1=(left + 178) / W, y0=1 - (top + 46) / H,
                       y1=1 - top / H, fillcolor=COLORS[name], line=dict(color="#000000", width=4)))
    label(left + 190, top + 23, name, size=48)

fig.update_layout(
    width=W, height=H, autosize=False, margin=dict(l=0, r=0, t=0, b=0, autoexpand=False), paper_bgcolor="white",
    plot_bgcolor="white", font=dict(family=FONT, size=48, color=TEXT), boxmode="overlay", annotations=annotations,
    shapes=shapes,
    xaxis=time_axis("y"), yaxis=value_axis(107, 667, "x", [0, .24], [0, .05, .1, .15, .2], ["0", "0.05", "0.1", "0.15", "0.2"]),
    xaxis2=box_axis("y2"), yaxis2=value_axis(99, 667, "x2", [0, .155], [0, .05, .1, .15], ["0", "0.05", "0.1", "0.15"], 8),
    xaxis3=time_axis("y3"), yaxis3=value_axis(889, 1450, "x3", [-.7, 1.02], [-.5, 0, .5, 1], ["-0.5", "0", "0.5", "1"]),
    xaxis4=box_axis("y4"), yaxis4=value_axis(893, 1452, "x4", [-1, 1], [-1, -.5, 0, .5, 1], ["-1", "-0.5", "0", "0.5", "1"], 8),
    xaxis5=time_axis("y5"), yaxis5=value_axis(1672, 2233, "x5", [0, 15.47], [0, 5, 10, 15], ["0", "5", "10", "15"]),
    xaxis6=box_axis("y6"), yaxis6=value_axis(1672, 2233, "x6", [0, 21.1], [0, 5, 10, 15, 20], ["0", "5", "10", "15", "20"], 8),
    xaxis7=time_axis("y7", labels=True), yaxis7=value_axis(2454, 3018, "x7", [-1, 1], [-1, -.5, 0, .5, 1], ["-1", "-0.5", "0", "0.5", "1"]),
    xaxis8=box_axis("y8", labels=True), yaxis8=value_axis(2454, 3018, "x8", [-1, 1], [-1, -.5, 0, .5, 1], ["-1", "-0.5", "0", "0.5", "1"], 8),
    legend=legend_col(750), legend2=legend_col(1112), legend3=legend_col(1475),
)

fig.write_html("out.html", config={"displayModeBar": False}, post_script="document.body.style.margin='0'")
